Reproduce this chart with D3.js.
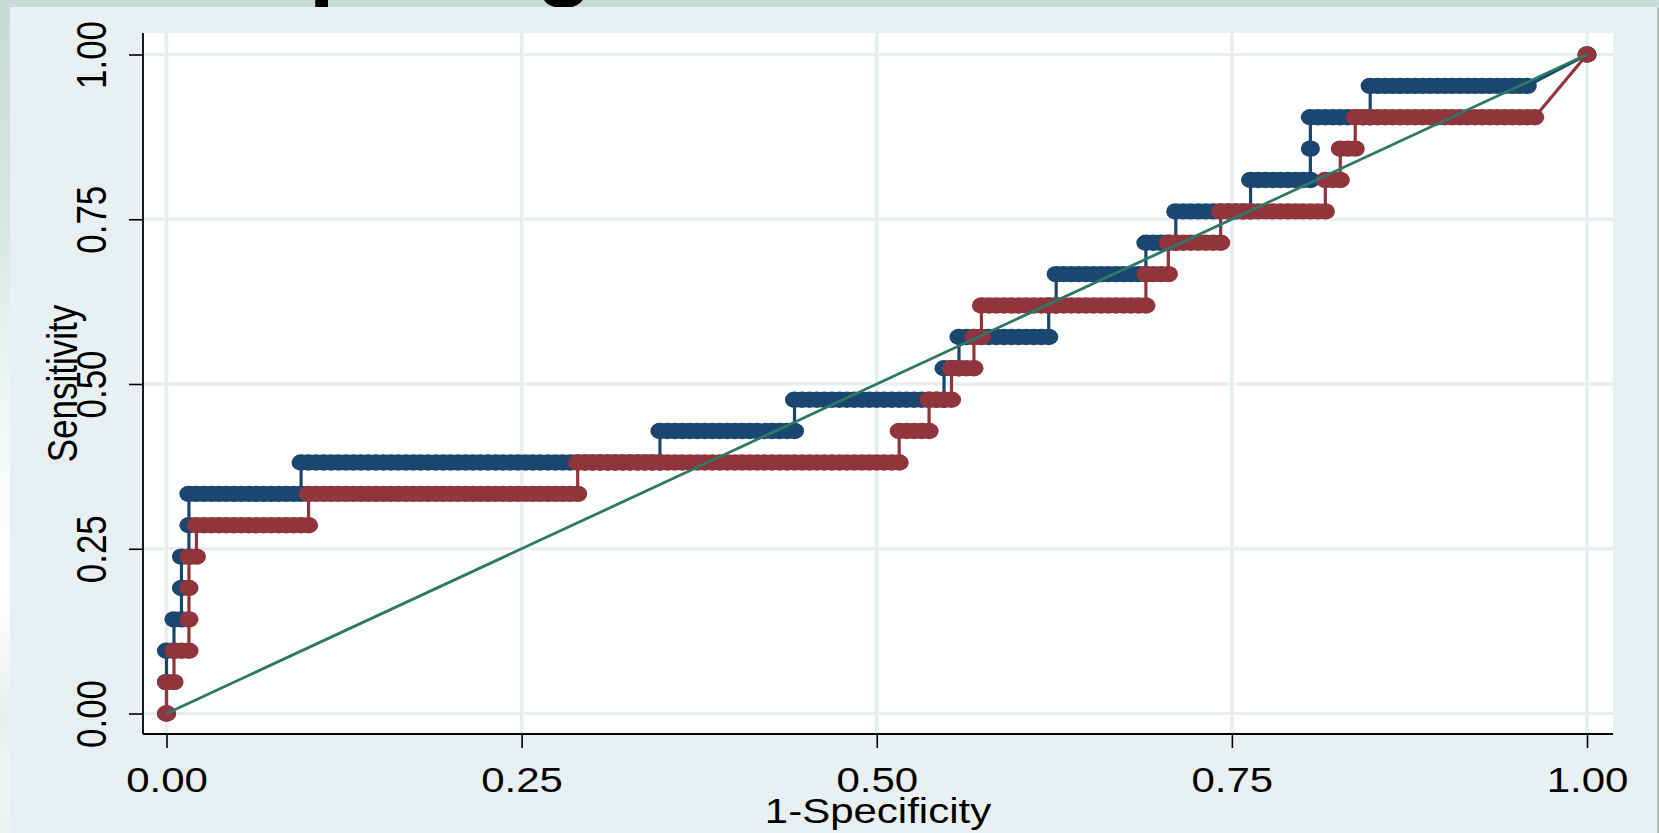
<!DOCTYPE html>
<html>
<head>
<meta charset="utf-8">
<script src="https://cdn.jsdelivr.net/npm/d3@7"></script>
<style>
  html, body { margin: 0; padding: 0; background: #c6dcd3; }
  svg { display: block; }
</style>
</head>
<body>
<svg id="chart" width="1659" height="833"></svg>
<script>
// ROC comparison: two classifiers scored on the same sample.
// Each run value = number of controls passed (one cutoff each) at a given
// count of detected cases (index = cases detected so far).
const nControls = 190;
const nCases = 21;

const blueRuns = [0, 0, 1, 1, 0, 1, 0, 15, 48, 18, 20, 2, 12, 1, 12, 4, 10, 8, 0, 8, 21];
const blueTie = [8, 1];   // [controls, cases] sharing the lowest cutoff

const redRuns = [0, 1, 2, 0, 0, 1, 15, 36, 43, 4, 3, 3, 1, 22, 3, 7, 14, 2, 2, 24];
const redTie = [7, 2];

const xTicks = [0, 0.25, 0.5, 0.75, 1];
const yTicks = [0, 0.25, 0.5, 0.75, 1];
const xTitle = "1-Specificity";
const yTitle = "Sensitivity";
const slideTitle = "Comparing ROC curves";

const colors = { blue: "#1a476f", red: "#90353b", ref: "#2d7966" };

// Build the ROC points (1-specificity, sensitivity) from the cutoff counts.
function rocPoints(runs, tie) {
  const pts = [];
  let c = 0;
  runs.forEach((n, k) => {
    pts.push([c / nControls, k / nCases]);
    for (let j = 0; j < n; j++) {
      c += 1;
      pts.push([c / nControls, k / nCases]);
    }
  });
  const kEnd = runs.length - 1 + tie[1];
  pts.push([(c + tie[0]) / nControls, kEnd / nCases]);
  return pts;
}

const series = [
  { name: "blue", pts: rocPoints(blueRuns, blueTie), color: colors.blue },
  { name: "red", pts: rocPoints(redRuns, redTie), color: colors.red }
];

const svg = d3.select("#chart");
const W = 1659, H = 833;
const plot = { left: 143, right: 1613, top: 33, bottom: 734 };
const stretch = 1.2;   // graph text is drawn wider than tall
const font = "'Liberation Sans', Arial, sans-serif";

const x = d3.scaleLinear().domain([0, 1]).range([166.5, 1587]);
const y = d3.scaleLinear().domain([0, 1]).range([713.5, 54.5]);

// Slide background: left strip gradient
const defs = svg.append("defs");
const lg = defs.append("linearGradient").attr("id", "strip")
  .attr("x1", 0).attr("y1", 0).attr("x2", 0).attr("y2", 1);
[[0, "#c5dbd3"], [0.25, "#d6e6e0"], [0.5, "#f2f8f5"], [0.7, "#ffffff"],
 [0.8, "#f4f7f6"], [0.86, "#e6edea"], [0.92, "#f1f5f3"], [1, "#eef3f1"]]
  .forEach(([o, c]) => lg.append("stop").attr("offset", o).attr("stop-color", c));

svg.append("rect").attr("width", W).attr("height", H).attr("fill", "#c6dcd3");
svg.append("rect").attr("x", 0).attr("y", 0).attr("width", 10).attr("height", H)
  .attr("fill", "url(#strip)");

// Slide heading, mostly hidden behind the graph panel
svg.append("text")
  .attr("x", 102).attr("y", -11)
  .attr("font-family", font).attr("font-weight", "bold")
  .attr("font-size", 93).attr("fill", "#000")
  .text(slideTitle);

// Graph panel
svg.append("rect").attr("x", 10).attr("y", 7).attr("width", 1647).attr("height", H - 7)
  .attr("fill", "#e8f0f1");
svg.append("rect").attr("x", 1657).attr("y", 7).attr("width", 2).attr("height", H - 7)
  .attr("fill", "#b7bebe");

// Plot region
svg.append("rect")
  .attr("x", plot.left).attr("y", plot.top)
  .attr("width", plot.right - plot.left).attr("height", plot.bottom - plot.top)
  .attr("fill", "#ffffff");

// Grid
const grid = svg.append("g").attr("stroke", "#e6eef0");
grid.selectAll("line.gx").data(xTicks).join("line").attr("class", "gx")
  .attr("x1", d => x(d)).attr("x2", d => x(d))
  .attr("y1", plot.top).attr("y2", plot.bottom)
  .attr("stroke-width", 3.5);
grid.selectAll("line.gy").data(yTicks).join("line").attr("class", "gy")
  .attr("y1", d => y(d)).attr("y2", d => y(d))
  .attr("x1", plot.left).attr("x2", plot.right)
  .attr("stroke-width", 3);

// ROC curves
const line = d3.line().x(d => x(d[0])).y(d => y(d[1]));
series.forEach(s => {
  const g = svg.append("g").attr("class", "roc-" + s.name);
  g.append("path").datum(s.pts)
    .attr("d", line)
    .attr("fill", "none")
    .attr("stroke", s.color)
    .attr("stroke-width", 3.2)
    .attr("stroke-linejoin", "round");
  g.selectAll("ellipse").data(s.pts).join("ellipse")
    .attr("cx", d => x(d[0])).attr("cy", d => y(d[1]))
    .attr("rx", 9.6).attr("ry", 8.2)
    .attr("fill", s.color);
});

// Chance line
svg.append("line")
  .attr("x1", x(0)).attr("y1", y(0)).attr("x2", x(1)).attr("y2", y(1))
  .attr("stroke", colors.ref).attr("stroke-width", 2.8);

// Axes
const fmt = d3.format(".2f");
const xAxis = svg.append("g")
  .attr("transform", `translate(0,${plot.bottom})`)
  .call(d3.axisBottom(x).tickValues(xTicks).tickFormat(fmt).tickSize(14).tickSizeOuter(0));
const yAxis = svg.append("g")
  .attr("transform", `translate(${plot.left},0)`)
  .call(d3.axisLeft(y).tickValues(yTicks).tickFormat(fmt).tickSize(14).tickSizeOuter(0));

[xAxis, yAxis].forEach(a => {
  a.select(".domain").remove();
  a.selectAll(".tick line").attr("stroke", "#000").attr("stroke-width", 1.6);
  a.selectAll(".tick text")
    .attr("font-family", font).attr("font-size", 35).attr("fill", "#000")
    .attr("x", null).attr("y", null).attr("dy", null)
    .attr("text-anchor", "middle");
});
xAxis.selectAll(".tick text").attr("transform", `translate(0,58) scale(${stretch},1)`);
yAxis.selectAll(".tick text").attr("transform", `translate(-37,0) scale(${stretch},1) rotate(-90)`);

// Axis lines
svg.append("line").attr("x1", plot.left).attr("x2", plot.right)
  .attr("y1", plot.bottom).attr("y2", plot.bottom)
  .attr("stroke", "#000").attr("stroke-width", 1.8);
svg.append("line").attr("x1", plot.left).attr("x2", plot.left)
  .attr("y1", plot.top).attr("y2", plot.bottom)
  .attr("stroke", "#000").attr("stroke-width", 1.8);

// Axis titles
svg.append("text")
  .attr("transform", `translate(${(plot.left + plot.right) / 2},823) scale(${stretch},1)`)
  .attr("text-anchor", "middle")
  .attr("font-family", font).attr("font-size", 35).attr("fill", "#000")
  .text(xTitle);
svg.append("text")
  .attr("transform", `translate(77,${(plot.top + plot.bottom) / 2}) scale(${stretch},1) rotate(-90)`)
  .attr("text-anchor", "middle")
  .attr("font-family", font).attr("font-size", 35).attr("fill", "#000")
  .text(yTitle);
</script>
</body>
</html>
